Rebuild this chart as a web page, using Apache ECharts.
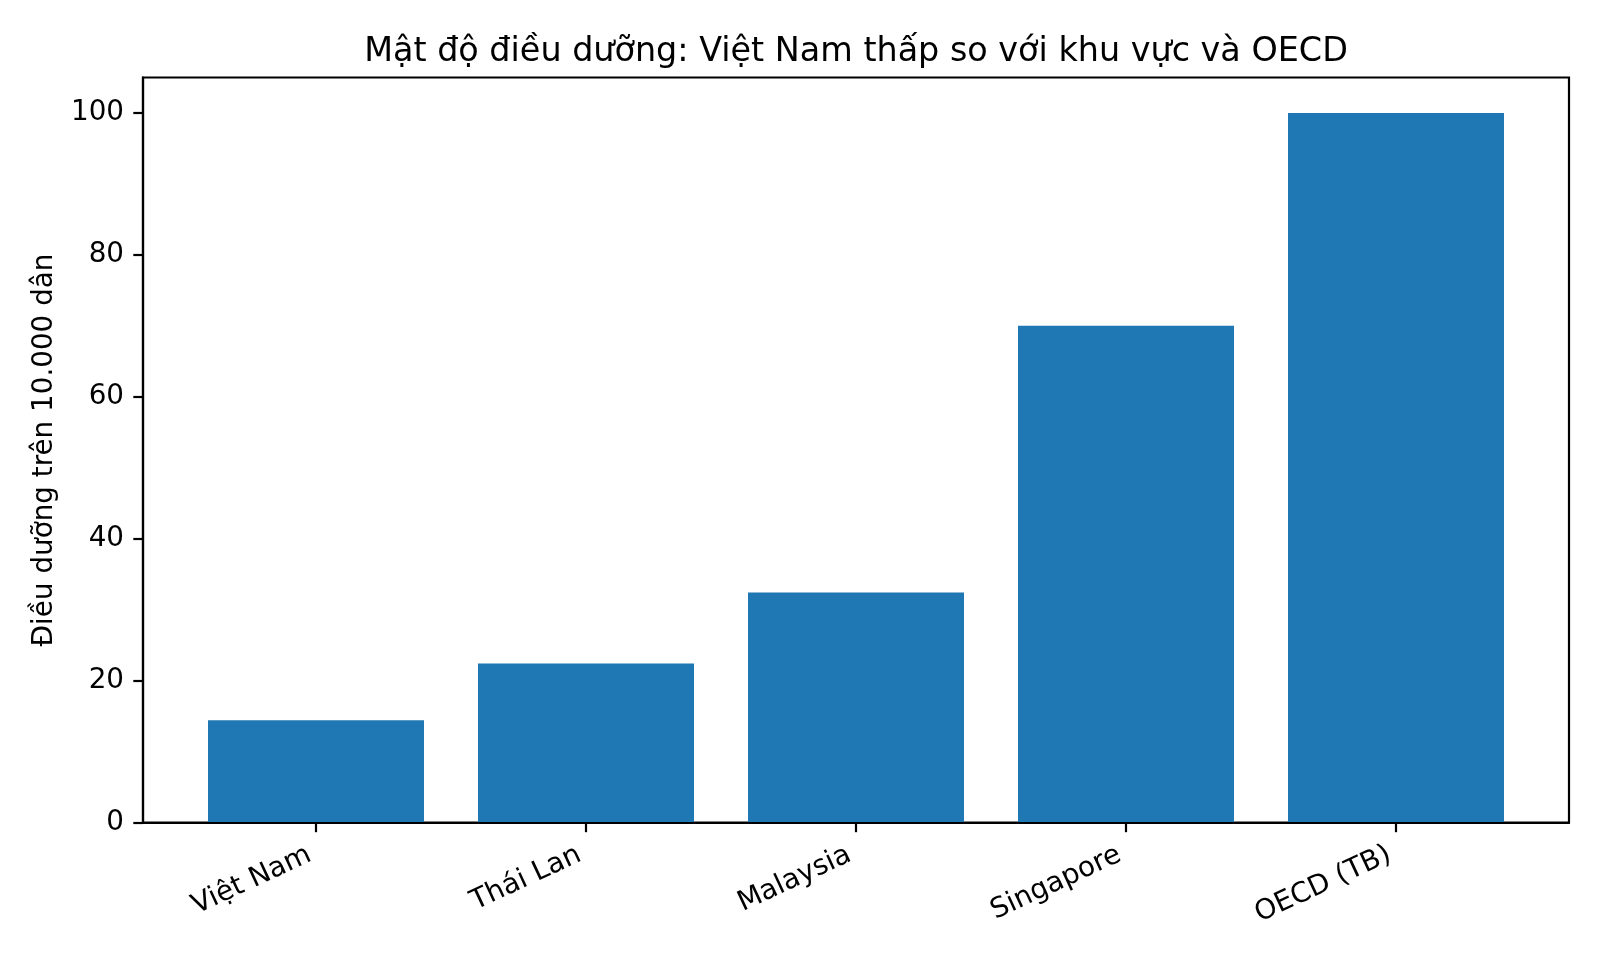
<!DOCTYPE html>
<html>
<head>
<meta charset="utf-8">
<script src="https://cdn.jsdelivr.net/npm/echarts@6/dist/echarts.min.js"></script>
<style>
html,body{margin:0;padding:0;background:#fff;}
#chart{width:1600px;height:960px;}
</style>
</head>
<body>
<div id="chart"></div>
<script>
const titleText = 'Mật độ điều dưỡng: Việt Nam thấp so với khu vực và OECD';
const yAxisName = 'Điều dưỡng trên 10.000 dân';
const categories = ['Việt Nam', 'Thái Lan', 'Malaysia', 'Singapore', 'OECD (TB)'];
const values = [14.4, 22.4, 32.4, 70.0, 100.0];
const yTicks = [0, 20, 40, 60, 80, 100];

const FONT = 'DejaVu Sans';
const chart = echarts.init(document.getElementById('chart'), null, {renderer: 'canvas'});
chart.setOption({
  backgroundColor: '#ffffff',
  animation: false,
  title: {
    text: titleText,
    left: 851, top: 31, textAlign: 'center',
    textStyle: {fontFamily: FONT, fontSize: 33.4, fontWeight: 'normal', color: '#000'}
  },
  grid: [
    {left: 143, right: 31, top: 77.5, bottom: 137.5, show: true, borderColor: '#000', borderWidth: 2.2, backgroundColor: 'transparent', containLabel: false},
    {left: 181, right: 69, top: 77.5, bottom: 137.5, containLabel: false}
  ],
  xAxis: [
    {type: 'value', gridIndex: 0, min: 0, max: 1, z: 10,
     axisLine: {show: true, onZero: false, lineStyle: {color: '#000', width: 2.2}},
     axisTick: {show: false}, axisLabel: {show: false}, splitLine: {show: false}},
    {type: 'category', gridIndex: 1, data: categories, boundaryGap: true,
     axisLine: {show: false},
     axisTick: {show: true, alignWithLabel: true, inside: false, length: 9.7, lineStyle: {color: '#000', width: 2.2}},
     axisLabel: {rotate: 25, margin: 28, padding: [0, 7, 0, 0], fontFamily: FONT, fontSize: 27.8, color: '#000', interval: 0},
     splitLine: {show: false}}
  ],
  yAxis: [
    {type: 'value', gridIndex: 0, min: 0, max: 105, z: 10,
     name: yAxisName, nameLocation: 'middle', nameGap: 84,
     nameTextStyle: {fontFamily: FONT, fontSize: 27.8, color: '#000'},
     axisLine: {show: true, lineStyle: {color: '#000', width: 2.2}},
     axisTick: {show: true, length: 9.7, customValues: yTicks, lineStyle: {color: '#000', width: 2.2}},
     axisLabel: {customValues: yTicks, margin: 19, fontFamily: FONT, fontSize: 27.8, color: '#000'},
     splitLine: {show: false}},
    {type: 'value', gridIndex: 1, min: 0, max: 105, show: false, splitLine: {show: false}}
  ],
  series: [{
    type: 'bar',
    xAxisIndex: 1, yAxisIndex: 1,
    data: values,
    barWidth: '80%',
    itemStyle: {color: '#1f77b4'}
  }]
});
</script>
</body>
</html>
